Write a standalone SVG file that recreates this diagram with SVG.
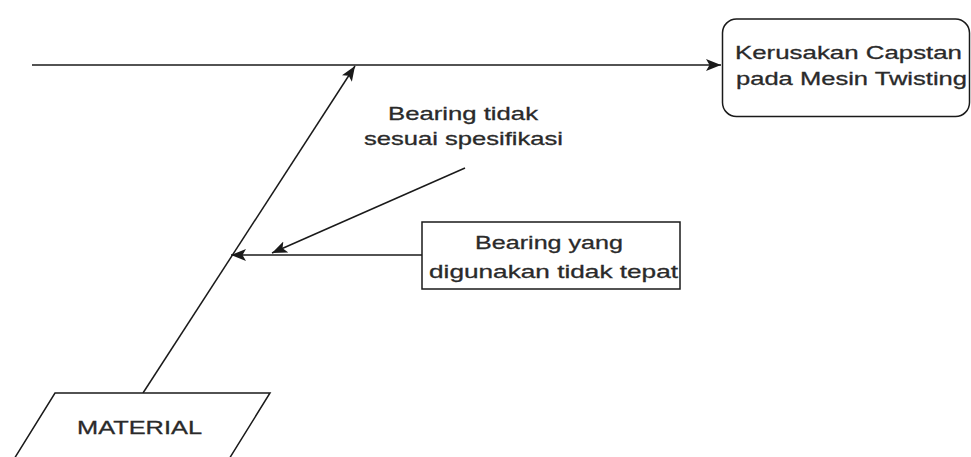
<svg xmlns="http://www.w3.org/2000/svg" width="971" height="457" viewBox="0 0 971 457">
  <style>
    .shape { fill: #ffffff; stroke: #1a1a1a; stroke-width: 1.5; }
    .edge { fill: none; stroke: #1a1a1a; stroke-width: 1.5; }
    .label { font-family: "Liberation Sans", Arial, sans-serif; font-size: 19px; fill: #2a2a2a; stroke: #2a2a2a; stroke-width: 0.3; }
  </style>
  <defs>
    <marker id="arrow" markerUnits="userSpaceOnUse" markerWidth="17" markerHeight="13" refX="15" refY="6" orient="auto">
      <path d="M0,0 L15,6 L0,12 L3.5,6 Z" fill="#1a1a1a"/>
    </marker>
  </defs>

  <!-- connectors -->
  <g id="connectors">
    <line class="edge" x1="32" y1="65" x2="721" y2="65" marker-end="url(#arrow)"/>
    <line class="edge" x1="143" y1="393" x2="355" y2="66" marker-end="url(#arrow)"/>
    <line class="edge" x1="422" y1="255" x2="231" y2="255" marker-end="url(#arrow)"/>
    <line class="edge" x1="465" y1="168" x2="272" y2="253" marker-end="url(#arrow)"/>
  </g>

  <!-- effect -->
  <g id="effect">
    <rect class="shape" x="722.5" y="19" width="247" height="97.5" rx="14" ry="14"/>
    <text class="label" x="735" y="59" textLength="227" lengthAdjust="spacingAndGlyphs">Kerusakan Capstan</text>
    <text class="label" x="736" y="85" textLength="231" lengthAdjust="spacingAndGlyphs">pada Mesin Twisting</text>
  </g>

  <!-- category -->
  <g id="material">
    <polygon class="shape" points="55,393 270,393 221,472 6,472"/>
    <text class="label" x="77" y="434" textLength="125" lengthAdjust="spacingAndGlyphs">MATERIAL</text>
  </g>

  <!-- causes -->
  <g id="cause-main">
    <rect class="shape" x="422" y="222" width="258" height="67"/>
    <text class="label" x="475" y="249" textLength="148" lengthAdjust="spacingAndGlyphs">Bearing yang</text>
    <text class="label" x="429" y="278" textLength="249" lengthAdjust="spacingAndGlyphs">digunakan tidak tepat</text>
  </g>

  <g id="cause-sub">
    <text class="label" x="388" y="120" textLength="150" lengthAdjust="spacingAndGlyphs">Bearing tidak</text>
    <text class="label" x="364" y="145" textLength="199" lengthAdjust="spacingAndGlyphs">sesuai spesifikasi</text>
  </g>
</svg>
